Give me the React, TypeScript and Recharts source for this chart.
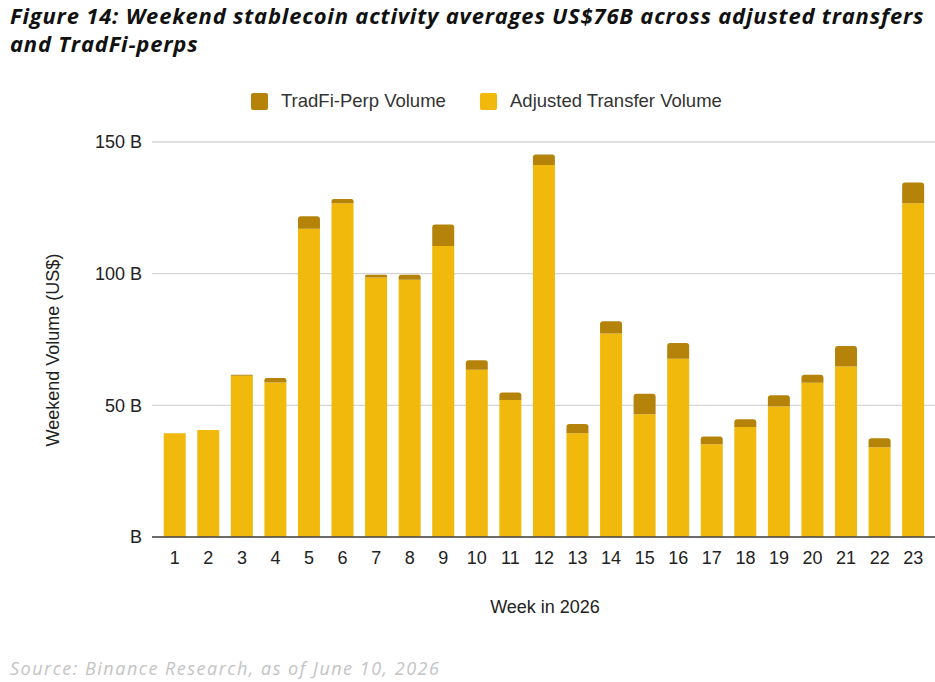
import { BarChart, Bar, XAxis, YAxis, CartesianGrid } from "recharts"

const weeks = ["1", "2", "3", "4", "5", "6", "7", "8", "9", "10", "11", "12", "13", "14", "15", "16", "17", "18", "19", "20", "21", "22", "23"]
const transferVolume = [39.4, 40.6, 61.2, 58.7, 117.1, 126.7, 98.5, 97.7, 110.5, 63.5, 52.0, 141.3, 39.4, 77.3, 46.6, 67.7, 35.2, 41.8, 49.6, 58.6, 64.7, 34.1, 126.7]
const perpVolume = [0, 0, 0.4, 1.7, 4.7, 1.7, 1.1, 1.9, 8.2, 3.6, 2.9, 4.0, 3.5, 4.6, 7.8, 6.0, 3.0, 2.9, 4.2, 3.0, 7.8, 3.4, 7.9]
const yTicks = [0, 50, 100, 150]

const TRANSFER = "#F0B90B"
const PERP = "#B5830A"
const AXIS_FONT = "'Liberation Sans', Arial, sans-serif"

const data = weeks.map((w, i) => ({
  week: w,
  transfer: transferVolume[i],
  perp: perpVolume[i],
}))

const legend = [
  { name: "TradFi-Perp Volume", color: PERP },
  { name: "Adjusted Transfer Volume", color: TRANSFER },
]

export default function App() {
  return (
    <div style={{ position: "absolute", left: 0, top: 0, width: 935, height: 682, background: "#fff", overflow: "hidden" }}>
      <div
        style={{
          position: "absolute",
          left: 10,
          top: 1,
          fontFamily: "'Open Sans', sans-serif",
          fontWeight: 700,
          fontStyle: "italic",
          fontSize: 22,
          letterSpacing: 0.8,
          lineHeight: "28px",
          color: "#111",
          whiteSpace: "nowrap",
        }}
      >
        <div>Figure 14: Weekend stablecoin activity averages US$76B across adjusted transfers</div>
        <div>and TradFi-perps</div>
      </div>

      <div style={{ position: "absolute", left: 0, top: 90, width: 1000, fontFamily: AXIS_FONT, fontSize: 18.5, color: "#333" }}>
        {legend.map((l, i) => (
          <div key={l.name} style={{ position: "absolute", left: i === 0 ? 251 : 480, top: 0, display: "flex", alignItems: "center", gap: 13, whiteSpace: "nowrap" }}>
            <span style={{ display: "inline-block", width: 17, height: 17, background: l.color, borderRadius: 2 }} />
            <span>{l.name}</span>
          </div>
        ))}
      </div>

      <div style={{ position: "absolute", left: 0, top: 0 }}>
        <BarChart
          width={935}
          height={600}
          data={data}
          margin={{ top: 142, right: 0, bottom: 33, left: 0 }}
          barCategoryGap="17%"
        >
          <CartesianGrid vertical={false} stroke="#d6d6d6" strokeWidth={1.3} />
          <XAxis
            dataKey="week"
            axisLine={{ stroke: "#444", strokeWidth: 1.5 }}
            tickLine={false}
            tickSize={0}
            tickMargin={14}
            interval={0}
            padding={{ left: 6, right: 5 }}
            tick={{ fill: "#222", fontSize: 18, fontFamily: AXIS_FONT }}
          />
          <YAxis
            width={152}
            domain={[0, 150]}
            ticks={yTicks}
            axisLine={false}
            tickLine={false}
            tickSize={0}
            tickMargin={10}
            tickFormatter={(v: number) => (v === 0 ? "B" : `${v} B`)}
            tick={{ fill: "#222", fontSize: 18, fontFamily: AXIS_FONT }}
          />
          <Bar dataKey="transfer" stackId="a" fill={TRANSFER} isAnimationActive={false} />
          <Bar dataKey="perp" stackId="a" fill={PERP} radius={[3, 3, 0, 0]} isAnimationActive={false} />
        </BarChart>
      </div>

      <div
        style={{
          position: "absolute",
          left: 53,
          top: 350,
          transform: "translate(-50%, -50%) rotate(-90deg)",
          fontFamily: AXIS_FONT,
          fontSize: 18,
          color: "#222",
          whiteSpace: "nowrap",
        }}
      >
        Weekend Volume (US$)
      </div>

      <div
        style={{
          position: "absolute",
          left: 545,
          top: 607,
          transform: "translate(-50%, -50%)",
          fontFamily: AXIS_FONT,
          fontSize: 18,
          color: "#222",
          whiteSpace: "nowrap",
        }}
      >
        Week in 2026
      </div>

      <div
        style={{
          position: "absolute",
          left: 10,
          top: 656,
          fontFamily: "'Open Sans', sans-serif",
          fontStyle: "italic",
          fontSize: 18,
          letterSpacing: 1.5,
          color: "#c4c4c4",
          whiteSpace: "nowrap",
        }}
      >
        Source: Binance Research, as of June 10, 2026
      </div>
    </div>
  )
}
